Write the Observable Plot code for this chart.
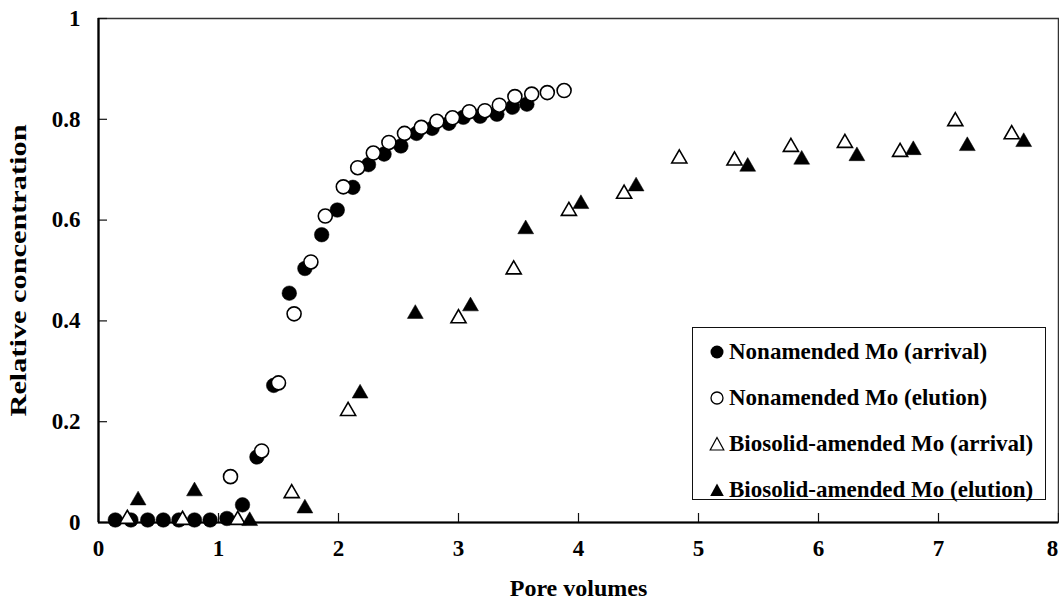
<!DOCTYPE html>
<html>
<head>
<meta charset="utf-8">
<script src="https://cdn.jsdelivr.net/npm/d3@7"></script>
<script src="https://cdn.jsdelivr.net/npm/@observablehq/plot@0.6"></script>
<style>
  body { margin: 0; background: white; }
  #wrap { position: relative; width: 1059px; height: 601px; font-family: "Liberation Serif", "Times New Roman", serif; }
  #legend { position: absolute; left: 692px; top: 327px; width: 352px; height: 171px; border: 1.5px solid #111; background: white; }
  .row { position: absolute; left: 0; height: 24px; display: flex; align-items: center; font-weight: bold; font-size: 23px; color: #000; white-space: nowrap; }
  .row svg { margin-left: 16px; margin-right: 4px; }
</style>
</head>
<body>
<div id="wrap"></div>
<script>
// Nonamended Mo (arrival) - filled circles
const naArrX = [0.14,0.27,0.41,0.54,0.67,0.80,0.93,1.07,1.20,1.32,1.46,1.59,1.72,1.86,1.99,2.12,2.25,2.38,2.52,2.65,2.78,2.92,3.04,3.18,3.32,3.45,3.57];
const naArrY = [0.005,0.005,0.005,0.005,0.005,0.005,0.005,0.008,0.035,0.13,0.272,0.455,0.504,0.571,0.62,0.665,0.71,0.731,0.747,0.772,0.782,0.792,0.804,0.806,0.81,0.824,0.83];
// Nonamended Mo (elution) - open circles
const naEluX = [1.10,1.36,1.50,1.63,1.77,1.89,2.04,2.16,2.29,2.42,2.55,2.69,2.82,2.95,3.09,3.22,3.34,3.47,3.61,3.74,3.88];
const naEluY = [0.091,0.142,0.277,0.414,0.517,0.608,0.666,0.704,0.733,0.754,0.772,0.784,0.796,0.803,0.815,0.817,0.828,0.845,0.85,0.853,0.857];
// Biosolid-amended Mo (arrival) - open triangles
const bsArrX = [0.24,0.70,1.16,1.61,2.08,3.00,3.46,3.92,4.38,4.84,5.30,5.77,6.22,6.68,7.14,7.61];
const bsArrY = [0.007,0.005,0.005,0.058,0.221,0.405,0.502,0.618,0.652,0.722,0.718,0.745,0.753,0.735,0.796,0.77];
// Biosolid-amended Mo (elution) - filled triangles
const bsEluX = [0.33,0.80,1.26,1.72,2.18,2.64,3.10,3.56,4.02,4.48,5.41,5.86,6.32,6.79,7.24,7.71];
const bsEluY = [0.044,0.062,0.003,0.028,0.256,0.414,0.429,0.582,0.632,0.667,0.706,0.72,0.727,0.739,0.747,0.755];

const xTicks = [0,1,2,3,4,5,6,7,8];
const xTickLabels = ["0","1","2","3","4","5","6","7","8"];
const yTicks = [0,0.2,0.4,0.6,0.8,1];
const yTickLabels = ["0","0.2","0.4","0.6","0.8","1"];
const xTitle = "Pore volumes";
const yTitle = "Relative concentration";
const seriesNames = ["Nonamended Mo (arrival)","Nonamended Mo (elution)","Biosolid-amended Mo (arrival)","Biosolid-amended Mo (elution)"];

const toPts = (xs, ys) => xs.map((x, i) => ({x, y: ys[i]}));

const W = 1059, H = 601, mL = 98, mR = 1, mT = 18, mB = 79;
const plotW = W - mL - mR, plotH = H - mT - mB;
const lastX = xTicks[xTicks.length - 1];
const innerXTicks = xTicks.slice(0, -1);

const chart = Plot.plot({
  width: W, height: H,
  marginLeft: mL, marginRight: mR, marginTop: mT, marginBottom: mB,
  style: {fontFamily: "'Liberation Serif', 'Times New Roman', serif", fontWeight: "bold", fontSize: "23px", color: "black", background: "white"},
  x: {domain: [0, 8], label: null},
  y: {domain: [0, 1], label: null},
  marks: [
    Plot.frame({stroke: "#333", strokeWidth: 1.5}),
    Plot.tickX(xTicks, {x: d => d, insetTop: plotH - 9, stroke: "#111", strokeWidth: 1.2}),
    Plot.tickY(yTicks, {y: d => d, insetRight: plotW - 9, stroke: "#111", strokeWidth: 1.2}),
    Plot.ruleX([0], {stroke: "black", strokeWidth: 2.2}),
    Plot.ruleY([0], {stroke: "black", strokeWidth: 2.2}),
    Plot.axisX(innerXTicks, {tickSize: 0, tickPadding: 17, tickFormat: (d, i) => xTickLabels[i], fill: "black", label: null}),
    Plot.axisX([lastX], {tickSize: 0, tickPadding: 17, tickFormat: () => xTickLabels[xTickLabels.length - 1], fill: "black", label: null, dx: -6}),
    Plot.axisY(yTicks, {tickSize: 0, tickPadding: 18, tickFormat: (d, i) => yTickLabels[i], fill: "black", label: null}),
    Plot.text([xTitle], {frameAnchor: "bottom", dy: 66, lineAnchor: "middle", textAnchor: "middle", fill: "black", fontSize: 24}),
    Plot.text([yTitle], {frameAnchor: "left", dx: -80, rotate: -90, textAnchor: "middle", lineAnchor: "middle", fill: "black", fontSize: 24, className: "ytitle"}),
    Plot.dot(toPts(naArrX, naArrY), {x: "x", y: "y", r: 7.3, fill: "black", stroke: "black", strokeWidth: 0.5}),
    Plot.dot(toPts(naEluX, naEluY), {x: "x", y: "y", r: 7, fill: "white", stroke: "black", strokeWidth: 1.6}),
    Plot.dot(toPts(bsArrX, bsArrY), {x: "x", y: "y", symbol: "triangle", r: 5.6, fill: "white", stroke: "black", strokeWidth: 1.6}),
    Plot.dot(toPts(bsEluX, bsEluY), {x: "x", y: "y", symbol: "triangle", r: 5.9, fill: "black", stroke: "black", strokeWidth: 0.5})
  ]
});
chart.setAttribute("style", (chart.getAttribute("style") || "") + ";position:absolute;left:0;top:0;");
// stretch the rotated y title slightly, as in the reference
chart.querySelectorAll("text").forEach(t => {
  if (t.textContent === yTitle) {
    t.setAttribute("textLength", "292");
    t.setAttribute("lengthAdjust", "spacingAndGlyphs");
  }
});
const wrap = document.getElementById("wrap");
wrap.appendChild(chart);

// Legend overlay
const legend = document.createElement("div");
legend.id = "legend";
const markers = [
  '<svg width="16" height="16" viewBox="-8 -8 16 16"><circle r="6.5" fill="black"/></svg>',
  '<svg width="16" height="16" viewBox="-8 -8 16 16"><circle r="6" fill="white" stroke="black" stroke-width="1.3"/></svg>',
  '<svg width="16" height="16" viewBox="-8 -8 16 16"><path d="M0,-6.5L6.8,6L-6.8,6Z" fill="white" stroke="black" stroke-width="1.2"/></svg>',
  '<svg width="16" height="16" viewBox="-8 -8 16 16"><path d="M0,-6.5L6.8,6L-6.8,6Z" fill="black"/></svg>'
];
const rowTops = [13, 59, 105, 151];
seriesNames.forEach((name, i) => {
  const row = document.createElement("div");
  row.className = "row";
  row.style.top = (rowTops[i] - 1) + "px";
  row.innerHTML = markers[i] + "<span>" + name + "</span>";
  legend.appendChild(row);
});
wrap.appendChild(legend);
</script>
</body>
</html>
